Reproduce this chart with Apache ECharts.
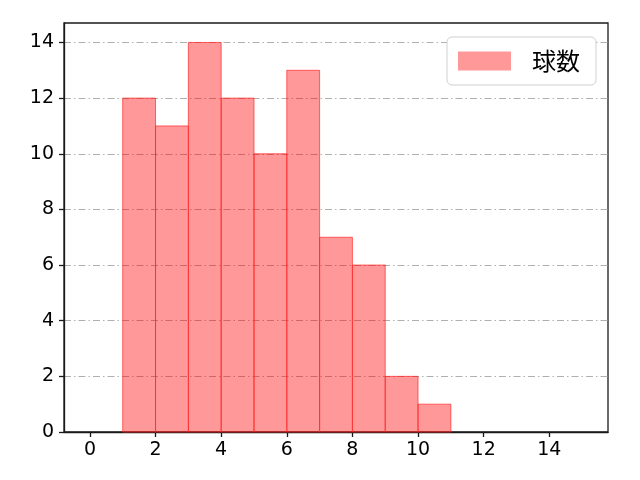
<!DOCTYPE html>
<html>
<head>
<meta charset="utf-8">
<script src="https://cdn.jsdelivr.net/npm/echarts@6/dist/echarts.min.js"></script>
<style>html,body{margin:0;padding:0;background:#fff}#c{width:640px;height:480px}</style>
</head>
<body>
<div id="c"></div>
<script>
var binStarts = [1, 2, 3, 4, 5, 6, 7, 8, 9, 10];
var binEnds   = [2, 3, 4, 5, 6, 7, 8, 9, 10, 11];
var counts    = [12, 11, 14, 12, 10, 13, 7, 6, 2, 1];
var xTicks = [0, 2, 4, 6, 8, 10, 12, 14];
var yTicks = [0, 2, 4, 6, 8, 10, 12, 14];
var seriesName = '球数';

var FONT = '"DejaVu Sans", sans-serif';
var CJK = '"Noto Sans CJK JP", sans-serif';
var data = binStarts.map(function (s, i) { return [s, binEnds[i], counts[i]]; });

var chart = echarts.init(document.getElementById('c'), null, {renderer: 'canvas'});
chart.setOption({
  animation: false,
  backgroundColor: '#fff',
  grid: {left: 64, right: 32, top: 23, bottom: 48, show: true, borderColor: '#1a1a1a', borderWidth: 1.3, backgroundColor: 'transparent'},
  legend: {
    data: [{name: seriesName, icon: 'rect'}],
    right: 44, top: 37,
    itemWidth: 53, itemHeight: 19,
    padding: [12, 16, 12, 11],
    borderColor: '#d0d0d0', borderWidth: 1, borderRadius: 5,
    backgroundColor: '#fff',
    textStyle: {fontFamily: CJK, fontSize: 24, color: '#000', padding: [0, 0, 0, 16]}
  },
  xAxis: {
    type: 'value', min: -0.79, max: 15.79,
    axisLine: {show: true, onZero: false, lineStyle: {color: '#1a1a1a', width: 1.3}},
    axisTick: {show: true, length: 5, lineStyle: {color: '#1a1a1a', width: 1.3}, customValues: xTicks},
    axisLabel: {customValues: xTicks, fontFamily: FONT, fontSize: 19, color: '#000', margin: 9},
    splitLine: {show: false}
  },
  yAxis: {
    type: 'value', min: 0, max: 14.7, interval: 2,
    axisLine: {show: true, onZero: false, lineStyle: {color: '#1a1a1a', width: 1.3}},
    axisTick: {show: true, length: 5, lineStyle: {color: '#1a1a1a', width: 1.3}, customValues: yTicks},
    axisLabel: {customValues: yTicks, fontFamily: FONT, fontSize: 19, color: '#000', margin: 10},
    splitLine: {show: true, lineStyle: {color: '#b0b0b0', width: 1, type: [7, 3, 1.5, 3]}}
  },
  series: [{
    name: seriesName,
    type: 'custom',
    itemStyle: {color: '#ff9999', borderColor: '#ff5555'},
    encode: {x: [0, 1], y: 2},
    data: data,
    renderItem: function (params, api) {
      var p0 = api.coord([api.value(0), api.value(2)]);
      var p1 = api.coord([api.value(1), 0]);
      return {
        type: 'rect',
        shape: {x: p0[0], y: p0[1], width: p1[0] - p0[0], height: p1[1] - p0[1]},
        style: {fill: 'rgba(255,0,0,0.4)', stroke: 'rgba(255,40,40,0.7)', lineWidth: 1}
      };
    }
  }]
});
</script>
</body>
</html>
